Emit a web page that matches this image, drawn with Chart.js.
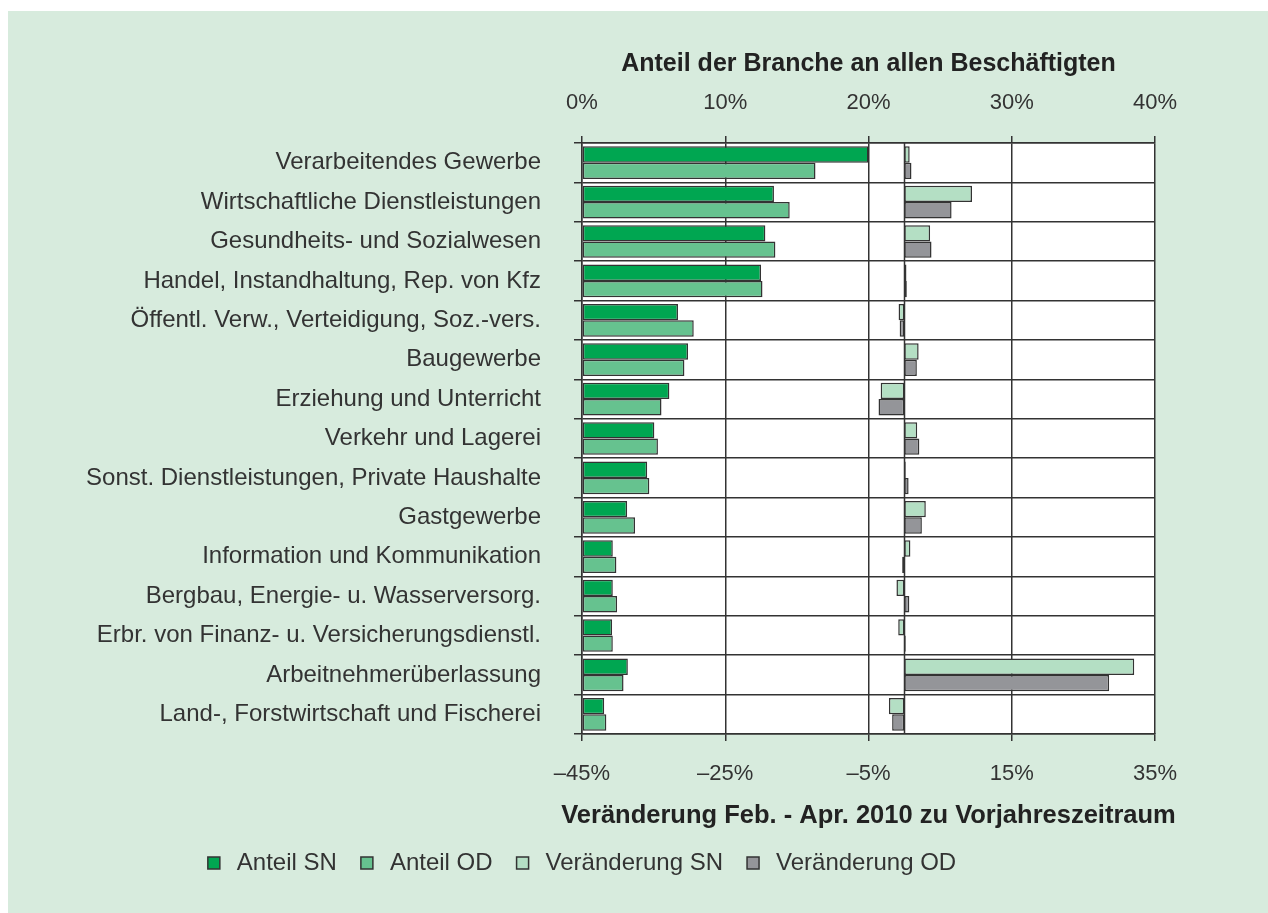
<!DOCTYPE html>
<html lang="de">
<head>
<meta charset="utf-8">
<title>Beschäftigte nach Branchen</title>
<script src="https://cdn.jsdelivr.net/npm/chart.js@4.4.1/dist/chart.umd.min.js"></script>
<style>
  html, body { margin: 0; padding: 0; background: #ffffff; }
  #wrap { position: relative; width: 1268px; height: 913px; }
</style>
</head>
<body>
<div id="wrap"><canvas id="chart"></canvas></div>
<script>
// Branchen (von oben nach unten)
const branchen = [
  'Verarbeitendes Gewerbe',
  'Wirtschaftliche Dienstleistungen',
  'Gesundheits- und Sozialwesen',
  'Handel, Instandhaltung, Rep. von Kfz',
  'Öffentl. Verw., Verteidigung, Soz.-vers.',
  'Baugewerbe',
  'Erziehung und Unterricht',
  'Verkehr und Lagerei',
  'Sonst. Dienstleistungen, Private Haushalte',
  'Gastgewerbe',
  'Information und Kommunikation',
  'Bergbau, Energie- u. Wasserversorg.',
  'Erbr. von Finanz- u. Versicherungsdienstl.',
  'Arbeitnehmerüberlassung',
  'Land-, Forstwirtschaft und Fischerei'
];

// Anteil an allen Beschäftigten in % (obere Achse)
const anteilSN = [20.0, 13.4, 12.8, 12.5, 6.7, 7.4, 6.1, 5.05, 4.55, 3.15, 2.15, 2.15, 2.1, 3.2, 1.55];
const anteilOD = [16.3, 14.5, 13.5, 12.6, 7.8, 7.15, 5.55, 5.3, 4.7, 3.7, 2.4, 2.45, 2.15, 2.9, 1.7];

// Veränderung Feb. - Apr. 2010 zu Vorjahreszeitraum in % (untere Achse)
const veraenderungSN = [0.75, 9.45, 3.6, 0.3, -0.8, 2.0, -3.3, 1.8, 0.2, 3.0, 0.85, -1.1, -0.85, 32.1, -2.15];
const veraenderungOD = [1.0, 6.6, 3.8, 0.35, -0.65, 1.75, -3.6, 2.1, 0.6, 2.45, -0.3, 0.7, 0.2, 28.6, -1.7];

const LINIE = '#333333';
const SCHRIFT = "'Liberation Sans', Arial, Helvetica, sans-serif";

function prozent(v) {
  return v < 0 ? '\u2013' + Math.abs(v) + '%' : v + '%';
}

// Hintergrund: weisser Rand, gruene Flaeche, weisse Zeichenflaeche
const hintergrund = {
  id: 'hintergrund',
  beforeDraw(chart) {
    const { ctx, width, height, chartArea } = chart;
    ctx.save();
    ctx.fillStyle = '#ffffff';
    ctx.fillRect(0, 0, width, height);
    ctx.fillStyle = '#d7ebdd';
    ctx.fillRect(8, 11, width - 8, height - 11);
    ctx.fillStyle = '#ffffff';
    ctx.fillRect(chartArea.left, chartArea.top, chartArea.right - chartArea.left, chartArea.bottom - chartArea.top);
    ctx.restore();
  }
};

// Nulllinie der Veraenderungsachse
const nullLinie = {
  id: 'nullLinie',
  beforeDatasetsDraw(chart) {
    const { ctx, chartArea, scales } = chart;
    const x = Math.round(scales.x2.getPixelForValue(0)) + 0.5;
    ctx.save();
    ctx.strokeStyle = LINIE;
    ctx.lineWidth = 1.5;
    ctx.beginPath();
    ctx.moveTo(x, chartArea.top);
    ctx.lineTo(x, chartArea.bottom);
    ctx.stroke();
    ctx.restore();
  }
};

// Titel der unteren Achse ohne Stauchung (breiter als die Achse)
const untererTitel = {
  id: 'untererTitel',
  afterDraw(chart) {
    const s = chart.scales.x2;
    const t = s.options.title;
    const ctx = chart.ctx;
    ctx.save();
    ctx.font = 'bold ' + t.font.size + 'px ' + SCHRIFT;
    ctx.fillStyle = t.color;
    ctx.textAlign = 'center';
    ctx.textBaseline = 'middle';
    ctx.fillText(t.text, (s.left + s.right) / 2, s.bottom - t.padding.bottom - t.font.size * 0.6);
    ctx.restore();
  }
};

Chart.defaults.font.family = SCHRIFT;
Chart.defaults.color = '#333333';

new Chart(document.getElementById('chart'), {
  type: 'bar',
  data: {
    labels: branchen,
    datasets: [
      { label: 'Anteil SN', data: anteilSN, xAxisID: 'x', stack: 'SN', backgroundColor: '#00a651' },
      { label: 'Anteil OD', data: anteilOD, xAxisID: 'x', stack: 'OD', backgroundColor: '#66c28f' },
      { label: 'Veränderung SN', data: veraenderungSN, xAxisID: 'x2', stack: 'SN', backgroundColor: '#b4dfc4' },
      { label: 'Veränderung OD', data: veraenderungOD, xAxisID: 'x2', stack: 'OD', backgroundColor: '#949599' }
    ]
  },
  options: {
    indexAxis: 'y',
    responsive: true,
    maintainAspectRatio: false,
    animation: false,
    layout: { padding: { left: 4, right: 113, top: 0, bottom: 28 } },
    datasets: {
      bar: {
        borderColor: LINIE,
        borderWidth: 1.5,
        borderSkipped: false,
        categoryPercentage: 0.83,
        barPercentage: 1.0
      }
    },
    scales: {
      y: {
        type: 'category',
        position: 'left',
        afterFit(scale) { scale.width = 578; },
        grid: { offset: true, color: LINIE, lineWidth: 1.5, tickLength: 8, tickColor: LINIE },
        border: { display: true, color: LINIE, width: 1.5 },
        ticks: { padding: 33, font: { size: 24 }, color: '#333333' }
      },
      x: {
        type: 'linear',
        position: 'top',
        min: 0,
        max: 40,
        stacked: false,
        afterFit(scale) { scale.height = 143; },
        grid: { color: LINIE, lineWidth: 1.5, tickLength: 7, tickColor: LINIE },
        border: { display: true, color: LINIE, width: 1.5 },
        ticks: { stepSize: 10, padding: 20, font: { size: 22 }, color: '#333333', callback: prozent },
        title: {
          display: true,
          text: 'Anteil der Branche an allen Beschäftigten',
          font: { size: 25, weight: 'bold' },
          color: '#222222',
          padding: { top: 49, bottom: 0 }
        }
      },
      x2: {
        type: 'linear',
        position: 'bottom',
        min: -45,
        max: 35,
        stacked: false,
        afterFit(scale) { scale.height = 98; },
        grid: { drawOnChartArea: false, tickLength: 7, tickColor: LINIE, lineWidth: 1.5 },
        border: { display: true, color: LINIE, width: 1.5 },
        ticks: { stepSize: 20, padding: 20, font: { size: 22 }, color: '#333333', callback: prozent },
        title: {
          display: false,
          text: 'Veränderung Feb. - Apr. 2010 zu Vorjahreszeitraum',
          font: { size: 25.5, weight: 'bold' },
          color: '#222222',
          padding: { top: 0, bottom: 1 }
        }
      }
    },
    plugins: {
      legend: {
        position: 'bottom',
        labels: {
          usePointStyle: true,
          pointStyle: 'rect',
          boxWidth: 22,
          boxHeight: 12,
          padding: 19,
          font: { size: 24 },
          color: '#333333'
        }
      },
      tooltip: { enabled: false }
    }
  },
  plugins: [hintergrund, nullLinie, untererTitel]
});
</script>
</body>
</html>
